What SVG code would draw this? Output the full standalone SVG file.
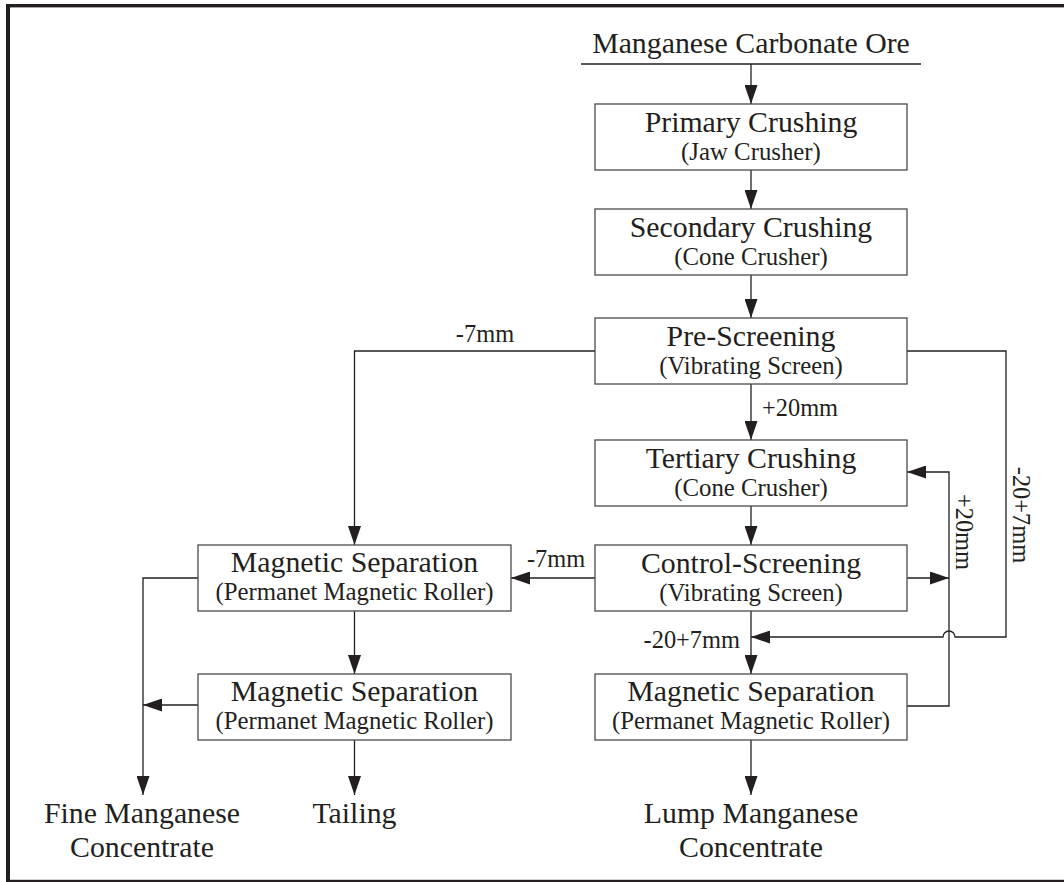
<svg xmlns="http://www.w3.org/2000/svg" width="1064" height="882" viewBox="0 0 1064 882">
  <style>
    text { font-family: "Liberation Serif", "Times New Roman", serif; fill: #231f20; }
    .t { font-size: 29.8px; text-anchor: middle; }
    .s { font-size: 24.8px; text-anchor: middle; }
    .lbl { font-size: 24.4px; }
    .box { fill: #fff; stroke: #4a4a4a; stroke-width: 1.3; }
    .c { fill: none; stroke: #231f20; stroke-width: 1.3; }
    .frame { fill: #231f20; }
  </style>
  <defs>
    <marker id="arr" markerUnits="userSpaceOnUse" markerWidth="19" markerHeight="13" refX="19" refY="6.5" orient="auto">
      <path d="M0,0 L19,6.5 L0,13 Z" fill="#231f20"/>
    </marker>
  </defs>

  <rect width="1064" height="882" fill="#fff"/>

  <!-- page frame -->
  <g id="frame">
    <rect class="frame" x="6" y="4" width="1058" height="3.4"/>
    <rect class="frame" x="6" y="4" width="4" height="878"/>
    <rect class="frame" x="6" y="879.8" width="1058" height="2.2"/>
  </g>

  <!-- connectors -->
  <g id="connectors">
    <path class="c" d="M581,64 H921"/>
    <path class="c" d="M751,64 V104" marker-end="url(#arr)"/>
    <path class="c" d="M751,170 V209" marker-end="url(#arr)"/>
    <path class="c" d="M751,275 V318" marker-end="url(#arr)"/>
    <path class="c" d="M751,384 V440" marker-end="url(#arr)"/>
    <path class="c" d="M751,506 V545" marker-end="url(#arr)"/>
    <path class="c" d="M751,611 V674" marker-end="url(#arr)"/>
    <path class="c" d="M751,740 V795" marker-end="url(#arr)"/>
    <path class="c" d="M595,351 H354.5 V545" marker-end="url(#arr)"/>
    <path class="c" d="M907,351 H1006 V637 H955 A6,6 0 0 0 943,637 H751" marker-end="url(#arr)"/>
    <path class="c" d="M595,578 H511" marker-end="url(#arr)"/>
    <path class="c" d="M907,578 H949" marker-end="url(#arr)"/>
    <path class="c" d="M907,706 H949 V472 H907" marker-end="url(#arr)"/>
    <path class="c" d="M198,578 H143 V795" marker-end="url(#arr)"/>
    <path class="c" d="M198,705 H143" marker-end="url(#arr)"/>
    <path class="c" d="M354.5,611 V674" marker-end="url(#arr)"/>
    <path class="c" d="M354.5,740 V795" marker-end="url(#arr)"/>

    <text class="lbl" x="485" y="342" text-anchor="middle">-7mm</text>
    <text class="lbl" x="762" y="416">+20mm</text>
    <text class="lbl" x="527" y="567">-7mm</text>
    <text class="lbl" x="740" y="648" text-anchor="end">-20+7mm</text>
    <text class="lbl" text-anchor="middle" transform="translate(956,532) rotate(90)">+20mm</text>
    <text class="lbl" text-anchor="middle" transform="translate(1013,515) rotate(90)">-20+7mm</text>
  </g>

  <!-- feed -->
  <g id="feed">
    <text class="t" x="751" y="53">Manganese Carbonate Ore</text>
  </g>

  <g id="primary">
    <rect class="box" x="595" y="104" width="312" height="66"/>
    <text class="t" x="751" y="132">Primary Crushing</text>
    <text class="s" x="751" y="160">(Jaw Crusher)</text>
  </g>

  <g id="secondary">
    <rect class="box" x="595" y="209" width="312" height="66"/>
    <text class="t" x="751" y="237">Secondary Crushing</text>
    <text class="s" x="751" y="265">(Cone Crusher)</text>
  </g>

  <g id="prescreen">
    <rect class="box" x="595" y="318" width="312" height="66"/>
    <text class="t" x="751" y="346">Pre-Screening</text>
    <text class="s" x="751" y="374">(Vibrating Screen)</text>
  </g>

  <g id="tertiary">
    <rect class="box" x="595" y="440" width="312" height="66"/>
    <text class="t" x="751" y="468">Tertiary Crushing</text>
    <text class="s" x="751" y="496">(Cone Crusher)</text>
  </g>

  <g id="controlscreen">
    <rect class="box" x="595" y="545" width="312" height="66"/>
    <text class="t" x="751" y="573">Control-Screening</text>
    <text class="s" x="751" y="601">(Vibrating Screen)</text>
  </g>

  <g id="magsep-lump">
    <rect class="box" x="595" y="674" width="312" height="66"/>
    <text class="t" x="751" y="701">Magnetic Separation</text>
    <text class="s" x="751" y="729">(Permanet Magnetic Roller)</text>
  </g>

  <g id="magsep-fine1">
    <rect class="box" x="198" y="545" width="313" height="66"/>
    <text class="t" x="354.5" y="572">Magnetic Separation</text>
    <text class="s" x="354.5" y="600">(Permanet Magnetic Roller)</text>
  </g>

  <g id="magsep-fine2">
    <rect class="box" x="198" y="674" width="313" height="66"/>
    <text class="t" x="354.5" y="701">Magnetic Separation</text>
    <text class="s" x="354.5" y="729">(Permanet Magnetic Roller)</text>
  </g>

  <g id="fine-concentrate">
    <text class="t" x="142" y="823">Fine Manganese</text>
    <text class="t" x="142" y="857">Concentrate</text>
  </g>

  <g id="tailing">
    <text class="t" x="354.5" y="823">Tailing</text>
  </g>

  <g id="lump-concentrate">
    <text class="t" x="751" y="823">Lump Manganese</text>
    <text class="t" x="751" y="857">Concentrate</text>
  </g>
</svg>
